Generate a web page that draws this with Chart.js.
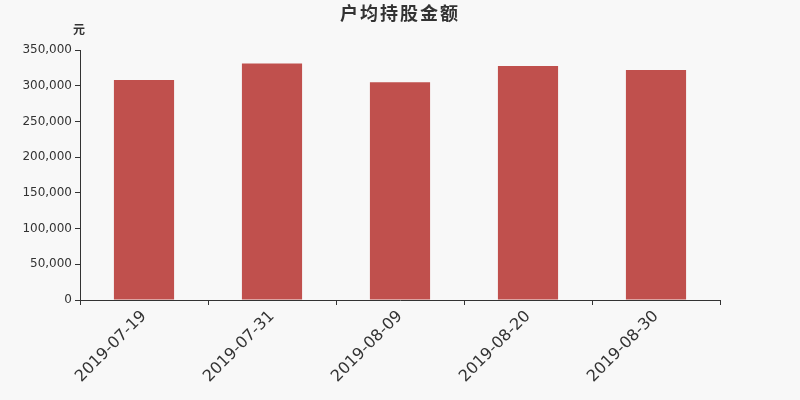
<!DOCTYPE html>
<html>
<head>
<meta charset="utf-8">
<script src="https://cdn.jsdelivr.net/npm/chart.js@4"></script>
<style>
  html, body { margin: 0; padding: 0; background: #f8f8f8; }
  #wrap { width: 800px; height: 400px; }
</style>
</head>
<body>
<div id="wrap"><canvas id="chart"></canvas></div>
<script>
// data
const dates = ["2019-07-19", "2019-07-31", "2019-08-09", "2019-08-20", "2019-08-30"];
const amounts = [308100, 331000, 304800, 327700, 322100];
const chartTitle = "户均持股金额";
const unitLabel = "元";

// draws the title and the unit above the y axis
const textPlugin = {
    id: "texts",
    afterDraw(chart) {
        const ctx = chart.ctx;
        ctx.save();
        ctx.fillStyle = "#333";
        ctx.textAlign = "center";
        ctx.textBaseline = "middle";
        ctx.font = "bold 18px 'Noto Sans CJK SC'";
        ctx.letterSpacing = "2px";
        ctx.fillText(chartTitle, 400, 13);
        ctx.letterSpacing = "0px";
        ctx.font = "bold 12px 'Noto Sans CJK SC'";
        ctx.fillText(unitLabel, 79, 29);
        ctx.restore();
    }
};

const ctx = document.getElementById("chart").getContext("2d");
new Chart(ctx, {
    type: "bar",
    data: {
        labels: dates,
        datasets: [{
            data: amounts,
            backgroundColor: "#c0504d",
            barPercentage: 0.47,
            categoryPercentage: 1
        }]
    },
    options: {
        responsive: true,
        maintainAspectRatio: false,
        animation: false,
        layout: { padding: { top: 50, right: 80, left: 0, bottom: 0 } },
        plugins: {
            legend: { display: false },
            tooltip: { enabled: false }
        },
        scales: {
            x: {
                offset: true,
                grid: { display: true, offset: true, drawOnChartArea: false, drawTicks: true, tickLength: 5, color: "#333" },
                border: { color: "#333" },
                ticks: {
                    color: "#333",
                    font: { size: 16, family: "DejaVu Sans" },
                    maxRotation: 45,
                    minRotation: 45,
                    padding: 2
                },
                afterFit(axis) { axis.height = 100; }
            },
            y: {
                min: 0,
                max: 350000,
                grid: { display: true, drawOnChartArea: false, drawTicks: true, tickLength: 5, color: "#333" },
                border: { color: "#333" },
                ticks: {
                    stepSize: 50000,
                    color: "#333",
                    font: { size: 12, family: "DejaVu Sans" },
                    padding: 3,
                    callback: v => v.toLocaleString("en-US")
                },
                afterFit(axis) { axis.width = 80; }
            }
        }
    },
    plugins: [textPlugin]
});
</script>
</body>
</html>
